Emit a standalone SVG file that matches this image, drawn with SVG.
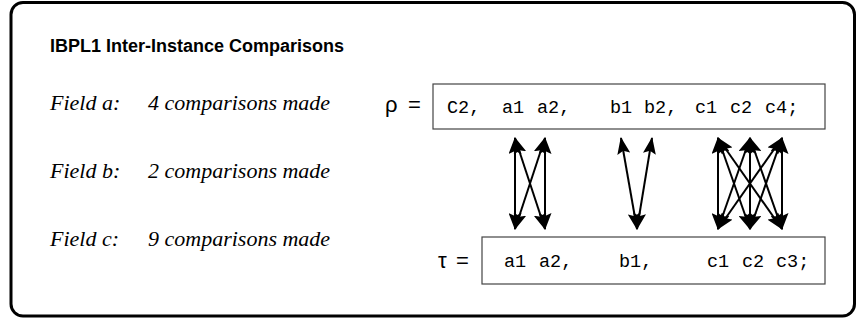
<svg xmlns="http://www.w3.org/2000/svg" width="857" height="320" viewBox="0 0 857 320">
<style>
.title{font-family:"Liberation Sans",Arial,sans-serif;font-weight:bold;font-size:18px;fill:#000}
.fld{font-family:"Liberation Serif","Times New Roman",serif;font-style:italic;font-size:22px;fill:#000}
.sym{font-family:"Liberation Sans",Arial,sans-serif;font-size:22px;fill:#000}
.mono{font-family:"Liberation Mono","Courier New",monospace;font-size:18.5px;fill:#000}
.box{fill:#fff;stroke:#444;stroke-width:1.2}
.arr{stroke:#000;stroke-width:2;fill:none;marker-start:url(#ah);marker-end:url(#ah)}
</style>
<defs>
<marker id="ah" viewBox="0 0 17 13" refX="16" refY="6.5" markerWidth="17" markerHeight="13" markerUnits="userSpaceOnUse" orient="auto-start-reverse">
<path d="M0,0 L17,6.5 L0,13 L3,6.5 Z" fill="#000"/>
</marker>
</defs>
<rect x="11" y="2.5" width="843.5" height="313.5" rx="12" fill="#fff" stroke="#000" stroke-width="3"/>
<text class="title" x="50" y="52">IBPL1 Inter-Instance Comparisons</text>
<g id="field-a"><text class="fld" x="50" y="110">Field a:</text><text class="fld" x="148" y="110">4 comparisons made</text></g>
<g id="field-b"><text class="fld" x="50" y="178">Field b:</text><text class="fld" x="148" y="178">2 comparisons made</text></g>
<g id="field-c"><text class="fld" x="50" y="246">Field c:</text><text class="fld" x="148" y="246">9 comparisons made</text></g>
<g id="rho">
<text class="sym" y="112"><tspan x="385">ρ</tspan><tspan x="408">=</tspan></text>
<rect class="box" x="433" y="84" width="392" height="45"/>
<text class="mono" y="113"><tspan x="447">C2,</tspan><tspan x="502">a1</tspan><tspan x="537">a2,</tspan><tspan x="610">b1</tspan><tspan x="644">b2,</tspan><tspan x="695">c1</tspan><tspan x="730">c2</tspan><tspan x="765">c4;</tspan></text>
</g>
<g id="tau">
<text class="sym" y="268"><tspan x="438">τ</tspan><tspan x="456">=</tspan></text>
<rect class="box" x="482" y="237" width="343" height="47"/>
<text class="mono" y="267"><tspan x="504">a1</tspan><tspan x="539">a2,</tspan><tspan x="619">b1,</tspan><tspan x="707">c1</tspan><tspan x="742">c2</tspan><tspan x="776">c3;</tspan></text>
</g>
<g id="connectors">
<line class="arr" x1="515" y1="138" x2="515" y2="229"/>
<line class="arr" x1="515" y1="138" x2="545" y2="229"/>
<line class="arr" x1="545" y1="138" x2="515" y2="229"/>
<line class="arr" x1="545" y1="138" x2="545" y2="229"/>
<line class="arr" x1="621" y1="138" x2="637" y2="229"/>
<line class="arr" x1="652" y1="138" x2="637" y2="229"/>
<line class="arr" x1="718" y1="138" x2="718" y2="229"/>
<line class="arr" x1="718" y1="138" x2="750" y2="229"/>
<line class="arr" x1="718" y1="138" x2="782" y2="229"/>
<line class="arr" x1="750" y1="138" x2="718" y2="229"/>
<line class="arr" x1="750" y1="138" x2="750" y2="229"/>
<line class="arr" x1="750" y1="138" x2="782" y2="229"/>
<line class="arr" x1="782" y1="138" x2="718" y2="229"/>
<line class="arr" x1="782" y1="138" x2="750" y2="229"/>
<line class="arr" x1="782" y1="138" x2="782" y2="229"/>
</g>
</svg>
